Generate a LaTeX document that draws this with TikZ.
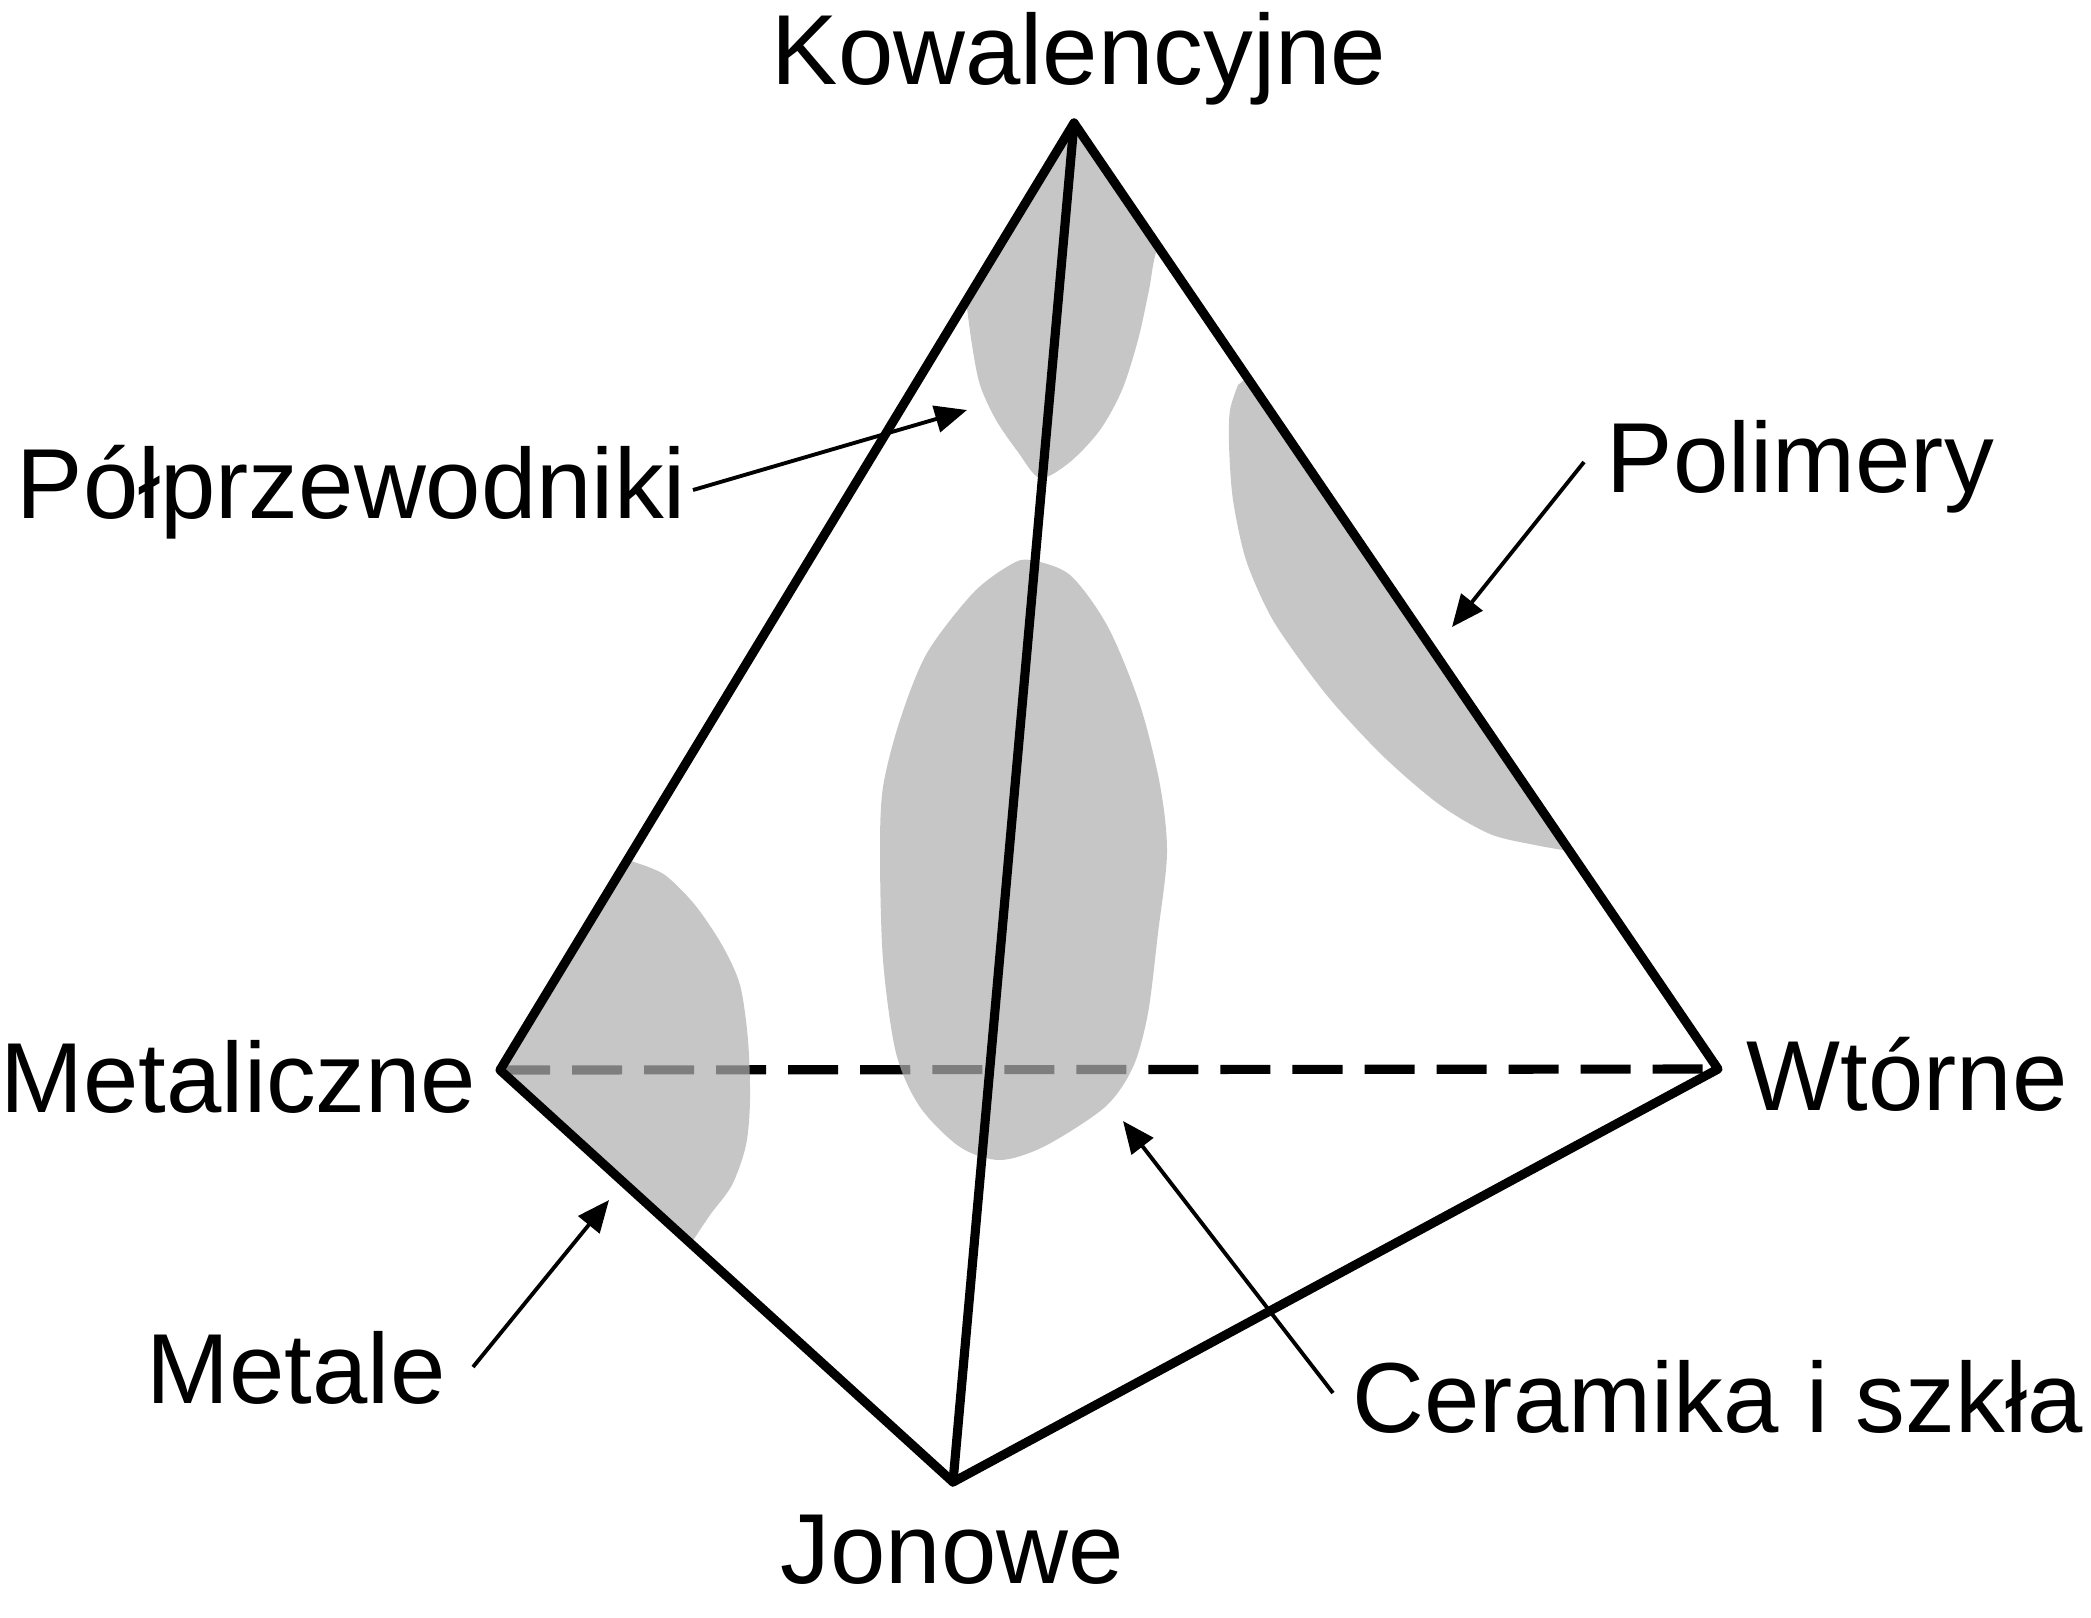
\documentclass[tikz,border=0pt]{standalone}
\usepackage{fontspec}
\setmainfont{Liberation Sans}
\usetikzlibrary{arrows.meta}

\begin{document}
\begin{tikzpicture}[x=0.01cm, y=-0.01cm,
    edge/.style ={line width=2.6pt, line join=round, line cap=round},
    hidden/.style ={line width=2.6pt, dash pattern=on 0.5cm off 0.22cm},
    region/.style ={fill=black!31, fill opacity=0.72},
    label/.style ={inner sep=0pt, anchor=base west, font=\fontsize{28.3}{34}\selectfont},
    pointer/.style ={line width=1.1pt, -{Triangle[length=0.32cm, width=0.27cm]}}]
   \useasboundingbox (0,0) rectangle (2091,1617);
   % corners of the tetrahedron
   \coordinate (K) at (1074,123);
   \coordinate (M) at (500,1070);
   \coordinate (W) at (1718,1069);
   \coordinate (J) at (953,1482);
   % back edge first, the regions lie over it
   \draw[hidden] (M) -- (W);
   \begin{scope}
     \clip (K) -- (M) -- (J) -- (W) -- cycle;
     % semiconductors
     \fill[region] (1074,90) -- (930,290) -- plot[smooth] coordinates {(966,300) (972,345) (980,385) (996,420) (1018,452) (1040,478) (1070,462) (1100,430) (1122,390) (1138,340) (1149,290) (1157,250) (1180,215)} -- (1190,200) -- cycle;
     % polymers
     \fill[region] (1262,365) -- plot[smooth] coordinates {(1238,385) (1230,410) (1229,445) (1233,500) (1246,560) (1270,615) (1300,660) (1335,705) (1385,758) (1440,805) (1490,834) (1535,845) (1575,852)} -- (1600,835) -- cycle;
     % metals
     \fill[region] (600,850) -- plot[smooth] coordinates {(637,863) (665,875) (695,905) (722,945) (740,985) (748,1040) (750,1100) (746,1145) (732,1185) (710,1215) (688,1248)} -- (650,1270) -- (440,1070) -- cycle;
   \end{scope}
   % ceramics and glasses
   \fill[region] plot[smooth cycle] coordinates {(1030,560) (1070,575) (1108,627) (1140,705) (1160,785) (1167,853) (1158,933) (1148,1013) (1133,1067) (1105,1107) (1045,1146) (1000,1160) (960,1147) (920,1107) (896,1053) (883,960) (880,853) (883,787) (900,720) (927,653) (973,593) (1010,565)};
   % visible edges
   \draw[edge] (K) -- (M) -- (J) -- (W) -- cycle;
   \draw[edge] (K) -- (J);
   % labels
   \node[label, anchor=base] (kowal) at (1079,84) {Kowalencyjne};
   \node[label] (metal) at (0,1112) {Metaliczne};
   \node[label] (wtorne) at (1746,1110) {Wtórne};
   \node[label] (jonowe) at (780,1583) {Jonowe};
   \node[label] (polprz) at (16,518) {Półprzewodniki};
   \node[label] (polim) at (1606,492) {Polimery};
   \node[label] (metale) at (146,1403) {Metale};
   \node[label] (ceram) at (1352,1432) {Ceramika i szkła};
   % pointers
   \coordinate (polprz-tail) at (693,490);
   \coordinate (polprz-tip) at (967,410);
   \coordinate (polim-tail) at (1584,462);
   \coordinate (polim-tip) at (1452,627);
   \coordinate (metale-tail) at (473,1367);
   \coordinate (metale-tip) at (609,1200);
   \coordinate (ceram-tail) at (1333,1393);
   \coordinate (ceram-tip) at (1123,1121);
   \draw[pointer] (polprz-tail) -- (polprz-tip);
   \draw[pointer] (polim-tail) -- (polim-tip);
   \draw[pointer] (metale-tail) -- (metale-tip);
   \draw[pointer] (ceram-tail) -- (ceram-tip);
\end{tikzpicture}
\end{document}
